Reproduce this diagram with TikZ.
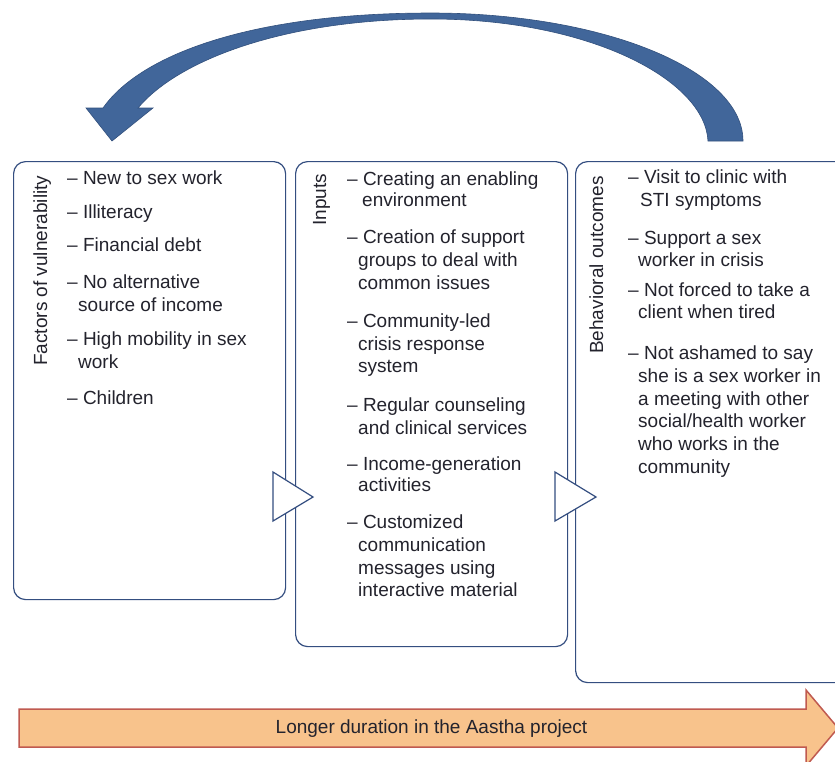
\documentclass[tikz,border=0pt]{standalone}
\usepackage{fontspec}
\setmainfont{Liberation Sans}
\definecolor{boxblue}{RGB}{52,78,128}
\definecolor{txt}{RGB}{35,35,45}
\definecolor{arrowblue}{RGB}{65,102,154}
\definecolor{arrowedge}{RGB}{50,80,125}
\definecolor{orangefill}{RGB}{248,195,140}
\definecolor{orangeline}{RGB}{192,90,80}
\begin{document}
\begin{tikzpicture}[x=1pt,y=-1pt,
  panel/.style={draw=boxblue, line width=1.2pt, rounded corners=12pt, fill=white, inner sep=0pt, anchor=north west},
  flowtri/.style={draw=boxblue, line width=1.2pt, fill=white, line join=miter},
  item/.style={anchor=base west, inner sep=0pt, text=txt, font=\fontsize{19}{23}\selectfont},
  vlabel/.style={item, rotate=90},
  bigarrow/.style={fill=arrowblue, draw=arrowedge, line width=0.6pt, line join=miter},
  timearrow/.style={fill=orangefill, draw=orangeline, line width=1.5pt, line join=miter}]
\clip (0,0) rectangle (835,761);
\fill[white] (0,0) rectangle (835,761);

% panels
\node[panel, minimum width=272pt, minimum height=438pt] (b1) at (13,161) {};
\node[panel, minimum width=272pt, minimum height=485pt] (b2) at (295,161) {};
\node[panel, minimum width=285pt, minimum height=521pt] (b3) at (575,161) {};

% flow triangles
\coordinate (t1a) at (273,472); \coordinate (t1b) at (313,497); \coordinate (t1c) at (273,521);
\coordinate (t2a) at (555,472); \coordinate (t2b) at (596,497); \coordinate (t2c) at (555,521);
\draw[flowtri] (t1a) -- (t1b) -- (t1c) -- cycle;
\draw[flowtri] (t2a) -- (t2b) -- (t2c) -- cycle;

% curved feedback arrow
\draw[bigarrow] (743,141) .. controls (743,70) and (603,13) .. (431,13)
  .. controls (250,13) and (140,55) .. (103,108)
  -- (86,108) -- (112,141) -- (153,108) -- (138,108)
  .. controls (178,60) and (285,19) .. (431,19)
  .. controls (590,19) and (705,80) .. (708,141) -- cycle;

% time arrow
\draw[timearrow] (19,709) -- (806,709) -- (806,690) -- (838,728) -- (806,766) -- (806,747) -- (19,747) -- cycle;
\node[item, anchor=base] (dur) at (431.5,733.5) {Longer duration in the Aastha project};

% vertical labels
\node[vlabel] (v1) at (47,366) {Factors of vulnerability};
\node[vlabel] (v2) at (326,226) {Inputs};
\node[vlabel] (v3) at (603,354) {Behavioral outcomes};

% box 1 text
\node[item] (a1) at (67,184.3) {\textendash{} New to sex work};
\node[item] (a2) at (67,218) {\textendash{} Illiteracy};
\node[item] (a3) at (67,251.7) {\textendash{} Financial debt};
\node[item] (a4) at (67,288) {\textendash{} No alternative};
\node[item] (a5) at (78,311.7) {source of income};
\node[item] (a6) at (67,345.7) {\textendash{} High mobility in sex};
\node[item] (a7) at (78,368) {work};
\node[item] (a8) at (67,404) {\textendash{} Children};

% box 2 text
\node[item] (c1) at (347,185) {\textendash{} Creating an enabling};
\node[item] (c2) at (362,206.7) {environment};
\node[item] (c3) at (347,243.3) {\textendash{} Creation of support};
\node[item] (c4) at (358,266) {groups to deal with};
\node[item] (c5) at (358,289) {common issues};
\node[item] (c6) at (347,327.7) {\textendash{} Community-led};
\node[item] (c7) at (358,350) {crisis response};
\node[item] (c8) at (358,372) {system};
\node[item] (c9) at (347,411.7) {\textendash{} Regular counseling};
\node[item] (c10) at (358,434.3) {and clinical services};
\node[item] (c11) at (347,470) {\textendash{} Income-generation};
\node[item] (c12) at (358,491.7) {activities};
\node[item] (c13) at (347,528.3) {\textendash{} Customized};
\node[item] (c14) at (358,551.7) {communication};
\node[item] (c15) at (358,574.3) {messages using};
\node[item] (c16) at (358,596.7) {interactive material};

% box 3 text
\node[item] (d1) at (628,183.3) {\textendash{} Visit to clinic with};
\node[item] (d2) at (640,206) {STI symptoms};
\node[item] (d3) at (628,244.3) {\textendash{} Support a sex};
\node[item] (d4) at (638,266.7) {worker in crisis};
\node[item] (d5) at (628,296.7) {\textendash{} Not forced to take a};
\node[item] (d6) at (638,318.3) {client when tired};
\node[item] (d7) at (628,359.3) {\textendash{} Not ashamed to say};
\node[item] (d8) at (638,382.7) {she is a sex worker in};
\node[item] (d9) at (638,405) {a meeting with other};
\node[item] (d10) at (638,427.7) {social/health worker};
\node[item] (d11) at (638,450.7) {who works in the};
\node[item] (d12) at (638,473.3) {community};
\end{tikzpicture}
\end{document}
